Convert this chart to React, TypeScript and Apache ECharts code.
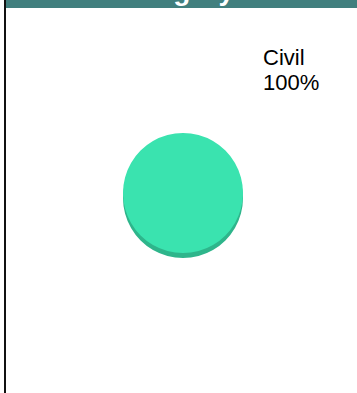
import React, { useEffect, useRef } from "react";
import * as echarts from "echarts";

const titleText = "Job Category Wise";
const categories = ["Civil"];
const values = [100];

export default function App() {
  const ref = useRef<HTMLDivElement>(null);
  useEffect(() => {
    if (!ref.current) return;
    const chart = echarts.init(ref.current, null, { renderer: "svg" });
    const data = categories.map((c, i) => ({ name: c, value: values[i] }));
    chart.setOption({
      animation: false,
      graphic: [
        { type: "rect", z: 0, shape: { x: 5, y: 0, width: 352, height: 8 }, style: { fill: "#417f7e" } },
        { type: "rect", z: 0, shape: { x: 4, y: 0, width: 2, height: 393 }, style: { fill: "#111111" } },
        {
          type: "text",
          z: 10,
          x: 181,
          y: -10,
          style: {
            text: titleText,
            fill: "#ffffff",
            font: "bold 28px Arial, 'Liberation Sans', sans-serif",
            align: "center",
            verticalAlign: "middle",
          },
        },
      ],
      series: [
        {
          type: "pie",
          silent: true,
          center: [183, 198],
          radius: 60,
          label: { show: false },
          labelLine: { show: false },
          itemStyle: { color: "#2eb58b" },
          data,
          z: 1,
        },
        {
          type: "pie",
          center: [183, 193],
          radius: 60,
          itemStyle: { color: "#3ae3af" },
          label: {
            show: true,
            formatter: "{b}\n{d}%",
            color: "#000000",
            fontSize: 22,
            lineHeight: 25,
            fontFamily: "Arial, 'Liberation Sans', sans-serif",
          },
          labelLine: { show: false },
          labelLayout: { x: 263, y: 45, align: "left", verticalAlign: "top" },
          data,
          z: 2,
        },
      ],
    });
    return () => chart.dispose();
  }, []);
  return (
    <div
      ref={ref}
      style={{ position: "absolute", left: 0, top: 0, width: 357, height: 393 }}
    />
  );
}
